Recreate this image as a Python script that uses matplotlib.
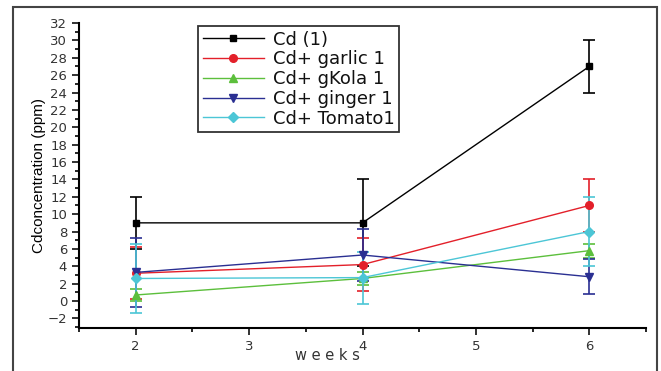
import matplotlib
matplotlib.use("Agg")
import matplotlib.pyplot as plt
from matplotlib.patches import Rectangle
from matplotlib.lines import Line2D
from matplotlib.ticker import MultipleLocator

weeks = [2, 4, 6]
labels = ["Cd (1)", "Cd+ garlic 1", "Cd+ gKola 1", "Cd+ ginger 1", "Cd+ Tomato1"]
cd = [9.0, 9.0, 27.0]
cd_err = [3.0, 5.0, 3.0]
garlic = [3.2, 4.2, 11.0]
garlic_err = [3.0, 3.0, 3.0]
kola = [0.7, 2.6, 5.8]
kola_err = [0.7, 0.7, 0.8]
ginger = [3.3, 5.3, 2.8]
ginger_err = [4.0, 3.0, 2.0]
tomato = [2.6, 2.7, 8.0]
tomato_err = [4.0, 3.0, 4.0]

series = [cd, garlic, kola, ginger, tomato]
errors = [cd_err, garlic_err, kola_err, ginger_err, tomato_err]
colors = ["#000000", "#e3202a", "#5cbf3c", "#2a2f92", "#4cc6d6"]
markers = ["s", "o", "^", "v", "D"]
msizes = [5, 5.5, 6, 6, 5]

plt.rcParams['font.family'] = ['Liberation Sans', 'DejaVu Sans']

fig = plt.figure(figsize=(6.61, 3.71), dpi=100)
ax = fig.add_axes([79/661, 1-328/371, (646-79)/661, (328-23)/371])

handles = []
for s, e, c, m, ms, lab in zip(series, errors, colors, markers, msizes, labels):
    ax.errorbar(weeks, s, yerr=e, color=c, marker=m, markersize=ms,
                lw=1.0, elinewidth=1.2, capsize=4, capthick=1.2)
    handles.append(Line2D([], [], color=c, marker=m, markersize=ms, lw=1.0, label=lab))

ax.set_xlim(1.5, 6.5)
ax.set_ylim(-3.1, 32)
ax.xaxis.set_major_locator(MultipleLocator(1))
ax.xaxis.set_minor_locator(MultipleLocator(0.5))
ax.yaxis.set_major_locator(MultipleLocator(2))
ax.yaxis.set_minor_locator(MultipleLocator(1))
ax.spines['top'].set_visible(False)
ax.spines['right'].set_visible(False)
ax.spines['left'].set_linewidth(1.5)
ax.spines['bottom'].set_linewidth(1.5)
ax.tick_params(which='major', direction='out', length=5, width=1.3, labelsize=9.5, colors='#222222')
ax.tick_params(which='minor', direction='out', length=3, width=1.2)
for lab in ax.get_xticklabels() + ax.get_yticklabels():
    lab.set_color('#333333')
    lab.set_family(['DejaVu Sans'])

ax.set_ylabel("Cdconcentration (ppm)", fontsize=11,
              family=['Liberation Sans Narrow', 'Liberation Sans', 'DejaVu Sans'],
              labelpad=1)
fig.text(327/661, 1-356/371, "w e e k s", ha='center', va='center', fontsize=10.5,
         color='#333333', family=['DejaVu Sans'])

leg = ax.legend(handles=handles, loc='upper left', bbox_to_anchor=(198/661, 1-26/371),
                bbox_transform=fig.transFigure, frameon=True, fancybox=False,
                edgecolor='black', handlelength=3.4, borderpad=0.25,
                labelspacing=0.1, handletextpad=0.5, borderaxespad=0,
                prop={'family': ['DejaVu Sans'], 'size': 13})
leg.get_frame().set_linewidth(1.3)
for t in leg.get_texts():
    t.set_color('#111111')

fig.patches.append(Rectangle((13/661, -0.1), (657-13)/661, 1.1 - 7/371,
                             transform=fig.transFigure, fill=False,
                             edgecolor='#444444', lw=1.5))

fig.savefig("out.png", dpi=100)
